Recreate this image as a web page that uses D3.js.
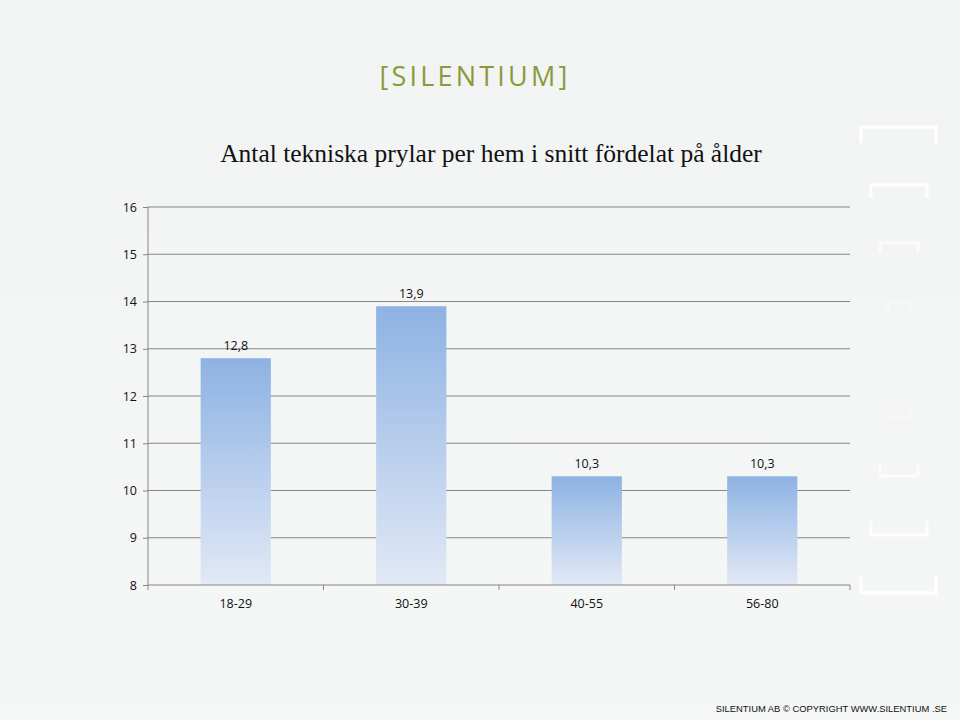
<!DOCTYPE html>
<html>
<head>
<meta charset="utf-8">
<script src="https://cdn.jsdelivr.net/npm/d3@7"></script>
<style>
  body { margin: 0; background: #f3f4f4; }
  svg { display: block; }
</style>
</head>
<body>
<div id="container"></div>
<script>
// data
const categories = ["18-29", "30-39", "40-55", "56-80"];
const values = [12.8, 13.9, 10.3, 10.3];
const valueLabels = ["12,8", "13,9", "10,3", "10,3"];
const yTicks = [8, 9, 10, 11, 12, 13, 14, 15, 16];

const W = 960, H = 720;
const plotL = 148, plotR = 850, plotT = 207, plotB = 585;

const svg = d3.select("#container").append("svg")
  .attr("width", W)
  .attr("height", H);

/* ---------------- BACKGROUND ---------------- */
const defs = svg.append("defs");
const bg = defs.append("linearGradient").attr("id", "bg")
  .attr("x1", 0).attr("y1", 0).attr("x2", 0).attr("y2", 1);
bg.append("stop").attr("offset", "0%").attr("stop-color", "#f2f3f3");
bg.append("stop").attr("offset", "100%").attr("stop-color", "#f5f6f6");
svg.append("rect").attr("width", W).attr("height", H).attr("fill", "url(#bg)");

const barGrad = defs.append("linearGradient").attr("id", "barGrad")
  .attr("x1", 0).attr("y1", 0).attr("x2", 0).attr("y2", 1);
barGrad.append("stop").attr("offset", "0%").attr("stop-color", "#8db2e3");
barGrad.append("stop").attr("offset", "100%").attr("stop-color", "#e2e9f6");

// decorative brackets on the right
const brackets = [
  { x1: 861, x2: 936, y: 127, leg: 16, op: 1 },
  { x1: 871, x2: 927, y: 185, leg: 13, op: 0.9 },
  { x1: 880, x2: 918, y: 243, leg: 10, op: 0.7 },
  { x1: 888, x2: 910, y: 302, leg: 8, op: 0.35 },
  { x1: 888, x2: 910, y: 418, leg: -8, op: 0.35 },
  { x1: 880, x2: 918, y: 476, leg: -12, op: 0.7 },
  { x1: 871, x2: 927, y: 535, leg: -14, op: 0.9 },
  { x1: 861, x2: 936, y: 593, leg: -18, op: 1 }
];
svg.append("g").selectAll("path")
  .data(brackets)
  .enter()
  .append("path")
  .attr("d", d => `M${d.x1},${d.y + d.leg}V${d.y}H${d.x2}V${d.y + d.leg}`)
  .attr("fill", "none")
  .attr("stroke", "#ffffff")
  .attr("stroke-width", 3)
  .attr("opacity", d => d.op);

/* ---------------- LOGO ---------------- */
svg.append("text")
  .attr("x", 475)
  .attr("y", 86)
  .attr("text-anchor", "middle")
  .attr("font-family", "'Open Sans', sans-serif")
  .attr("font-size", 27)
  .attr("letter-spacing", 3.2)
  .attr("fill", "#8a9a3b")
  .text("[SILENTIUM]");

/* ---------------- TITLE ---------------- */
svg.append("text")
  .attr("x", 491)
  .attr("y", 162)
  .attr("text-anchor", "middle")
  .attr("font-family", "'Liberation Serif', serif")
  .attr("font-size", 25.5)
  .attr("fill", "#111")
  .text("Antal tekniska prylar per hem i snitt fördelat på ålder");

/* ---------------- SCALES ---------------- */
const x = d3.scaleBand()
  .domain(categories)
  .range([plotL, plotR])
  .paddingInner(0.6)
  .paddingOuter(0.3);

const y = d3.scaleLinear()
  .domain([8, 16])
  .range([plotB, plotT]);

// gridlines
svg.append("g").selectAll("line")
  .data(yTicks.filter(d => d > 8))
  .enter()
  .append("line")
  .attr("x1", plotL)
  .attr("x2", plotR)
  .attr("y1", d => y(d))
  .attr("y2", d => y(d))
  .attr("stroke", "#868686")
  .attr("stroke-width", 1);

/* ---------------- BARS ---------------- */
svg.append("g").selectAll("rect")
  .data(values)
  .enter()
  .append("rect")
  .attr("x", (d, i) => x(categories[i]))
  .attr("y", d => y(d))
  .attr("width", x.bandwidth())
  .attr("height", d => y(8) - y(d))
  .attr("fill", "url(#barGrad)");

svg.append("g").selectAll("text")
  .data(values)
  .enter()
  .append("text")
  .attr("x", (d, i) => x(categories[i]) + x.bandwidth() / 2)
  .attr("y", d => y(d) - 8)
  .attr("text-anchor", "middle")
  .attr("font-family", "'Open Sans', sans-serif")
  .attr("font-size", 12.5)
  .attr("fill", "#111")
  .text((d, i) => valueLabels[i]);

/* ---------------- AXES ---------------- */
const yAxis = svg.append("g")
  .attr("transform", `translate(${plotL},0)`)
  .call(d3.axisLeft(y).tickValues(yTicks).tickSize(5).tickPadding(6).tickFormat(d3.format("d")));

const xOuter = d3.scalePoint().domain(d3.range(categories.length + 1)).range([plotL, plotR]);
const xAxis = svg.append("g")
  .attr("transform", `translate(0,${plotB})`);
xAxis.append("line")
  .attr("x1", plotL).attr("x2", plotR)
  .attr("stroke", "#868686");
xAxis.selectAll("line.tick")
  .data(xOuter.domain())
  .enter()
  .append("line")
  .attr("class", "tick")
  .attr("x1", d => xOuter(d))
  .attr("x2", d => xOuter(d))
  .attr("y1", 0)
  .attr("y2", 5)
  .attr("stroke", "#868686");
xAxis.selectAll("text")
  .data(categories)
  .enter()
  .append("text")
  .attr("x", d => x(d) + x.bandwidth() / 2)
  .attr("y", 23)
  .attr("text-anchor", "middle")
  .attr("font-family", "'Open Sans', sans-serif")
  .attr("font-size", 12.5)
  .attr("fill", "#111")
  .text(d => d);

yAxis.select(".domain").attr("stroke", "#868686").attr("d", `M0,${plotT}V${plotB}`);
yAxis.selectAll(".tick line").attr("stroke", "#868686");
yAxis.selectAll(".tick text")
  .attr("font-family", "'Open Sans', sans-serif")
  .attr("font-size", 12.5)
  .attr("fill", "#111");

/* ---------------- FOOTER ---------------- */
svg.append("text")
  .attr("x", 947)
  .attr("y", 712)
  .attr("text-anchor", "end")
  .attr("font-family", "'Liberation Sans', Arial, sans-serif")
  .attr("font-size", 9.4)
  .attr("fill", "#111")
  .text("SILENTIUM AB © COPYRIGHT WWW.SILENTIUM .SE");
</script>
</body>
</html>
